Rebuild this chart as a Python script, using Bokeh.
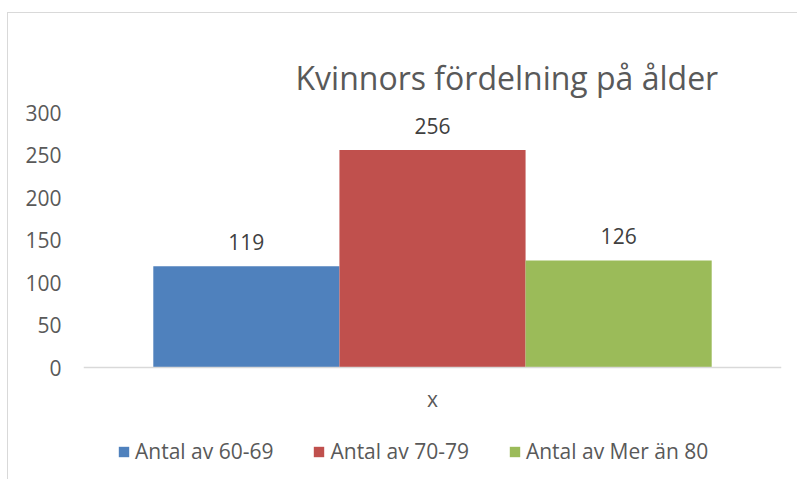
from bokeh.plotting import figure
from bokeh.models import (ColumnDataSource, FactorRange, Range1d, FixedTicker,
                          Legend, LegendItem, Title, Span)
from bokeh.transform import dodge
from bokeh.core.properties import value
from bokeh.embed import file_html
from bokeh.resources import INLINE

categories = ["x"]
series_names = ["Antal av 60-69", "Antal av 70-79", "Antal av Mer än 80"]
series_values = [119, 256, 126]
colors = ["#4F81BD", "#C0504D", "#9BBB59"]
y_ticks = [0, 50, 100, 150, 200, 250, 300]
title_text = "Kvinnors fördelning på ålder"

FONT = "Open Sans"
GRAY = "#595959"

PX_PER_UNIT = 0.85       # vertical scale (pixels per value unit)
BELOW_ZERO_PX = 113      # plot area space kept below the zero line

p = figure(width=790, height=467, x_range=FactorRange(*categories),
           y_range=Range1d(-BELOW_ZERO_PX / PX_PER_UNIT, 300),
           output_backend="svg", toolbar_location=None, x_axis_location=None,
           min_border_left=75, min_border_right=17, min_border_top=99,
           min_border_bottom=0, title=None)
p.margin = (12, 0, 0, 7)
p.styles = {"border-left": "1px solid #d9d9d9", "border-top": "1px solid #d9d9d9"}
p.outline_line_color = None
p.xgrid.visible = False
p.ygrid.visible = False
p.background_fill_color = "white"
p.border_fill_color = "white"

# y axis
p.yaxis.ticker = FixedTicker(ticks=y_ticks)
p.yaxis.axis_line_color = None
p.yaxis.major_tick_line_color = None
p.yaxis.minor_tick_line_color = None
p.yaxis.major_tick_out = 0
p.yaxis.major_tick_in = 0
p.yaxis.major_label_standoff = 22
p.yaxis.major_label_text_font = FONT
p.yaxis.major_label_text_font_size = "21px"
p.yaxis.major_label_text_color = GRAY

# category axis line and category label
p.add_layout(Span(location=0, dimension="width", line_color="#d9d9d9",
                  line_width=1.5))
p.text(x=categories, y=[0] * len(categories), text=categories,
       text_align="center", text_baseline="alphabetic", y_offset=31,
       text_font=value(FONT), text_font_size="21px", text_color=GRAY)

n = len(series_names)
bw = 0.8 / n
items = []
for i, (name, val, col) in enumerate(zip(series_names, series_values, colors)):
    src = ColumnDataSource(dict(cat=categories, v=[val], t=[str(val)]))
    off = (i - (n - 1) / 2) * bw
    r = p.vbar(x=dodge("cat", off, range=p.x_range), top="v", width=bw,
               source=src, fill_color=col, line_color=None)
    p.text(x=dodge("cat", off, range=p.x_range), y="v", text="t", source=src,
           text_align="center", text_baseline="alphabetic", y_offset=-24,
           text_font=value(FONT), text_font_size="21px", text_color="#404040")
    items.append(LegendItem(label=name, renderers=[r]))

legend = Legend(items=items, orientation="horizontal", location=(34, 15),
                glyph_width=13, glyph_height=13, label_standoff=5, spacing=39,
                padding=0, margin=0, border_line_color=None,
                background_fill_alpha=0, label_text_font=FONT,
                label_text_font_size="21px", label_text_color=GRAY)
p.add_layout(legend, "center")

title = Title(text=title_text, align="left", offset=212, standoff=28,
              text_font=FONT, text_font_size="32px", text_font_style="normal",
              text_color=GRAY)
p.add_layout(title, "above")

open("out.html", "w").write(file_html(p, INLINE))
